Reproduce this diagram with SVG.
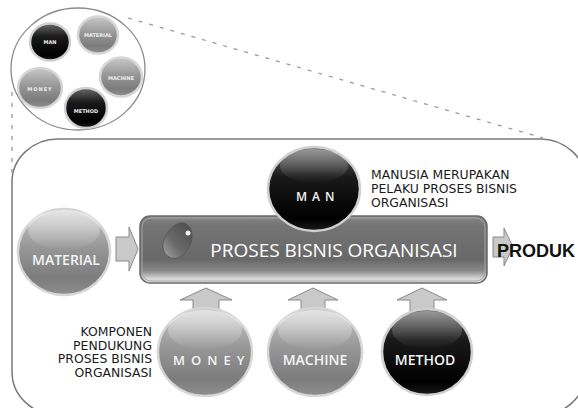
<svg xmlns="http://www.w3.org/2000/svg" width="578" height="408" viewBox="0 0 578 408">
<defs>
  <linearGradient id="greyOrb" x1="0" y1="0" x2="0" y2="1">
    <stop offset="0" stop-color="#c8c8c8"/>
    <stop offset="0.45" stop-color="#979797"/>
    <stop offset="0.8" stop-color="#7c7c7c"/>
    <stop offset="1" stop-color="#8e8e8e"/>
  </linearGradient>
  <linearGradient id="darkOrb" x1="0" y1="0" x2="0" y2="1">
    <stop offset="0" stop-color="#6a6a6a"/>
    <stop offset="0.35" stop-color="#1a1a1a"/>
    <stop offset="0.85" stop-color="#000"/>
    <stop offset="1" stop-color="#1c1c1c"/>
  </linearGradient>
  <linearGradient id="gloss" x1="0" y1="0" x2="0" y2="1">
    <stop offset="0" stop-color="#fff" stop-opacity="0.55"/>
    <stop offset="1" stop-color="#fff" stop-opacity="0"/>
  </linearGradient>
  <linearGradient id="bar" x1="0" y1="0" x2="0" y2="1">
    <stop offset="0" stop-color="#858585"/>
    <stop offset="0.15" stop-color="#747474"/>
    <stop offset="0.65" stop-color="#686868"/>
    <stop offset="0.82" stop-color="#8a8a8a"/>
    <stop offset="0.93" stop-color="#d4d4d4"/>
    <stop offset="1" stop-color="#ececec"/>
  </linearGradient>
  <linearGradient id="drop" x1="1" y1="0" x2="0" y2="1">
    <stop offset="0" stop-color="#4a4a4a"/>
    <stop offset="0.6" stop-color="#6a6a6a"/>
    <stop offset="1" stop-color="#a8a8a8"/>
  </linearGradient>
  <style>
    .grey { fill: url(#greyOrb); stroke: #d6d6d6; stroke-width: 2.5; }
    .dark { fill: url(#darkOrb); stroke: #d0d0d0; stroke-width: 2.5; }
    .gl { fill: url(#gloss); }
    .lbl { font-family: "Open Sans", "DejaVu Sans", sans-serif; fill: #f4f4f4; font-weight: 600; }
    .note { font-family: "DejaVu Sans", sans-serif; font-size: 12.4px; fill: #1a1a1a; }
    .arrow { fill: #c9c9c9; stroke: #8a8a8a; stroke-width: 1; }
    .dash { fill: none; stroke: #9a9a9a; stroke-width: 1.3; stroke-dasharray: 4 7; }
    .small { font-family: "DejaVu Sans", sans-serif; font-size: 5px; fill: #eee; font-weight: bold; text-anchor: middle; }
  </style>
</defs>
<rect width="578" height="408" fill="#fff"/>

<!-- frame -->
<g id="frame">
  <rect x="12" y="139" width="574" height="276" rx="46" ry="43" fill="none" stroke="#7a7a7a" stroke-width="1.5"/>
</g>

<!-- zoom overview -->
<g id="overview">
  <ellipse cx="78" cy="69" rx="67" ry="61" fill="#fff" stroke="#8a8a8a" stroke-width="1.3"/>
  <g id="ov-man"><ellipse cx="50" cy="42" rx="20" ry="18.5" class="dark" stroke-width="1.2"/><text x="50" y="44" class="small">MAN</text></g>
  <g id="ov-material"><ellipse cx="98" cy="35" rx="20" ry="18.5" class="grey" stroke-width="1.2"/><text x="98" y="37" class="small">MATERIAL</text></g>
  <g id="ov-machine"><ellipse cx="121" cy="77" rx="21" ry="19.5" class="grey" stroke-width="1.2"/><text x="121" y="80" class="small">MACHINE</text></g>
  <g id="ov-money"><ellipse cx="40" cy="88" rx="22" ry="20" class="grey" stroke-width="1.2"/><text x="40" y="91" class="small" letter-spacing="1">MONEY</text></g>
  <g id="ov-method"><ellipse cx="86" cy="108" rx="21" ry="20" class="dark" stroke-width="1.2"/><text x="86" y="113" class="small">METHOD</text></g>
</g>

<!-- connectors -->
<g id="connectors">
  <line x1="128" y1="18" x2="543" y2="138" class="dash"/>
  <line x1="12" y1="92" x2="12" y2="182" class="dash"/>
  <path class="arrow" d="M116 237 H129 V227 L138 249 L129 271 V261 H116 Z"/>
  <path class="arrow" d="M493 237 H504 V228 L513 247 L504 266 V257 H493 Z"/>
  <path class="arrow" d="M193 311 V300 H180 L206 288 L232 300 H219 V311 Z"/>
  <path class="arrow" d="M301 311 V300 H288 L313 288 L338 300 H325 V311 Z"/>
  <path class="arrow" d="M410 311 V300 H397 L422 288 L447 300 H434 V311 Z"/>
</g>

<!-- process bar -->
<g id="proses">
  <rect x="140" y="216" width="347" height="67" rx="10" fill="url(#bar)" stroke="#6a6a6a" stroke-width="1.5"/>
  <rect x="142" y="218" width="343" height="63" rx="9" fill="none" stroke="#a8a8a8" stroke-width="1"/>
  <path d="M184 223 C196 227 194 246 182 256 C172 263 159 254 164 240 C167 231 176 221 184 223 Z" fill="url(#drop)" stroke="#555" stroke-width="0.8"/>
  <circle cx="188" cy="233" r="2.5" fill="#eee"/>
  <text x="334" y="257" font-family="Open Sans, DejaVu Sans, sans-serif" font-size="19" font-weight="500" fill="#fff" text-anchor="middle">PROSES BISNIS ORGANISASI</text>
</g>

<g id="material">
  <ellipse cx="64" cy="252" rx="46" ry="43" class="grey"/>
  <ellipse cx="64" cy="230" rx="36" ry="20" class="gl"/>
  <text x="66" y="265" class="lbl" font-size="14" text-anchor="middle">MATERIAL</text>
</g>

<g id="man">
  <ellipse cx="314" cy="189" rx="46" ry="42" class="dark"/>
  <ellipse cx="314" cy="166" rx="34" ry="17" class="gl" opacity="0.6"/>
  <text x="296" y="201" class="lbl" font-size="12" font-weight="bold" letter-spacing="5">MAN</text>
</g>

<g id="money">
  <ellipse cx="205" cy="352" rx="47" ry="44" class="grey"/>
  <ellipse cx="205" cy="330" rx="37" ry="20" class="gl"/>
  <text x="173" y="365" class="lbl" font-size="13" letter-spacing="6">MONEY</text>
</g>

<g id="machine">
  <ellipse cx="315" cy="352" rx="47" ry="44" class="grey"/>
  <ellipse cx="315" cy="330" rx="37" ry="20" class="gl"/>
  <text x="315" y="365" class="lbl" font-size="14" text-anchor="middle">MACHINE</text>
</g>

<g id="method">
  <ellipse cx="427" cy="352" rx="45" ry="43" class="dark"/>
  <ellipse cx="427" cy="330" rx="35" ry="19" class="gl" opacity="0.6"/>
  <text x="425" y="365" class="lbl" font-size="14" font-weight="bold" text-anchor="middle">METHOD</text>
</g>

<g id="produk">
  <text x="497" y="257" font-family="Liberation Sans, Arial, sans-serif" font-size="18" font-weight="bold" fill="#111">PRODUK</text>
</g>

<g id="note-man">
  <text class="note"><tspan x="371" y="179">MANUSIA MERUPAKAN</tspan><tspan x="371" y="193">PELAKU PROSES BISNIS</tspan><tspan x="371" y="207">ORGANISASI</tspan></text>
</g>

<g id="note-komponen">
  <text class="note" font-size="11.6" text-anchor="end"><tspan x="152" y="336">KOMPONEN</tspan><tspan x="152" y="349.6">PENDUKUNG</tspan><tspan x="152" y="363.2">PROSES BISNIS</tspan><tspan x="152" y="376.8">ORGANISASI</tspan></text>
</g>
</svg>
